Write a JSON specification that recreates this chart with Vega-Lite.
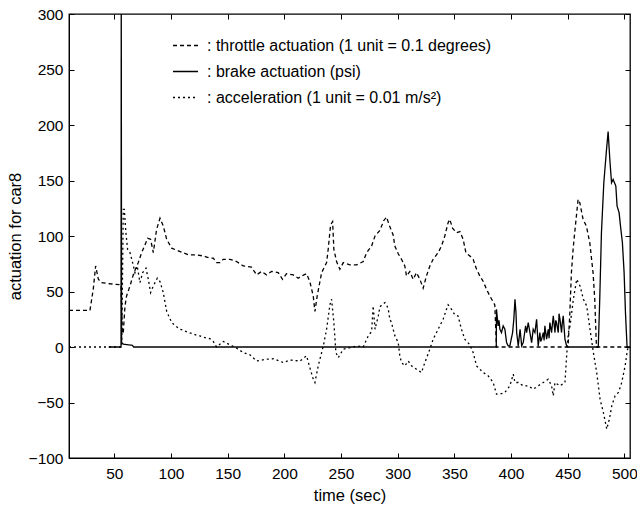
{
  "$schema": "https://vega.github.io/schema/vega-lite/v6.json",
  "width": 561,
  "height": 444,
  "autosize": {"type": "none"},
  "padding": {"left": 69, "top": 14, "right": 7, "bottom": 50},
  "background": "white",
  "config": {
    "font": "Liberation Sans",
    "view": {"stroke": "black", "strokeWidth": 1.3},
    "axis": {"grid": false, "domainColor": "black", "tickColor": "black", "labelColor": "black", "titleColor": "black", "labelFontSize": 15.5, "titleFontSize": 16.5, "titleFontWeight": "normal", "tickSize": -5, "labelFont": "Liberation Sans", "titleFont": "Liberation Sans"}
  },
  "datasets": {
    "series": [
      {"s":"throttle","t":10,"v":33},{"s":"throttle","t":28.5,"v":33},{"s":"throttle","t":31.4,"v":52},{"s":"throttle","t":33.5,"v":73},{"s":"throttle","t":35.9,"v":61},{"s":"throttle","t":38.8,"v":58},{"s":"throttle","t":46.2,"v":57},{"s":"throttle","t":55.9,"v":56},{"s":"throttle","t":57.0,"v":12},{"s":"throttle","t":57.9,"v":13},{"s":"throttle","t":59.4,"v":37},{"s":"throttle","t":60.8,"v":46},{"s":"throttle","t":63.8,"v":55},{"s":"throttle","t":67.3,"v":67},{"s":"throttle","t":71.1,"v":76},{"s":"throttle","t":74.1,"v":85},{"s":"throttle","t":77,"v":92},{"s":"throttle","t":79.4,"v":98},{"s":"throttle","t":82,"v":97},{"s":"throttle","t":84.4,"v":85},{"s":"throttle","t":87.3,"v":106},{"s":"throttle","t":90.3,"v":116},{"s":"throttle","t":93.2,"v":109},{"s":"throttle","t":96.2,"v":97},{"s":"throttle","t":100.6,"v":89},{"s":"throttle","t":108,"v":86},{"s":"throttle","t":115.3,"v":83},{"s":"throttle","t":122.6,"v":83},{"s":"throttle","t":128.5,"v":82},{"s":"throttle","t":131.4,"v":81},{"s":"throttle","t":134.4,"v":80},{"s":"throttle","t":137.3,"v":80},{"s":"throttle","t":140.2,"v":76},{"s":"throttle","t":143.2,"v":76},{"s":"throttle","t":146.1,"v":79},{"s":"throttle","t":152,"v":79},{"s":"throttle","t":157.9,"v":77},{"s":"throttle","t":163.7,"v":73},{"s":"throttle","t":171,"v":72},{"s":"throttle","t":175.5,"v":65},{"s":"throttle","t":179.9,"v":68},{"s":"throttle","t":184.3,"v":65},{"s":"throttle","t":188.7,"v":68},{"s":"throttle","t":194.6,"v":67},{"s":"throttle","t":198.4,"v":61},{"s":"throttle","t":201.9,"v":66},{"s":"throttle","t":207.8,"v":65},{"s":"throttle","t":212.2,"v":62},{"s":"throttle","t":215.2,"v":64},{"s":"throttle","t":219.6,"v":66},{"s":"throttle","t":222.5,"v":59},{"s":"throttle","t":225.5,"v":46},{"s":"throttle","t":227,"v":32},{"s":"throttle","t":229,"v":46},{"s":"throttle","t":232.9,"v":67},{"s":"throttle","t":237.3,"v":76},{"s":"throttle","t":238.7,"v":88},{"s":"throttle","t":240.8,"v":110},{"s":"throttle","t":242.6,"v":113},{"s":"throttle","t":243.7,"v":88},{"s":"throttle","t":246.1,"v":77},{"s":"throttle","t":249,"v":70},{"s":"throttle","t":252,"v":76},{"s":"throttle","t":257.9,"v":74},{"s":"throttle","t":263.8,"v":74},{"s":"throttle","t":269.6,"v":77},{"s":"throttle","t":272.6,"v":85},{"s":"throttle","t":277,"v":91},{"s":"throttle","t":280,"v":100},{"s":"throttle","t":284.3,"v":105},{"s":"throttle","t":287.8,"v":114},{"s":"throttle","t":290.2,"v":117},{"s":"throttle","t":292.5,"v":110},{"s":"throttle","t":296,"v":101},{"s":"throttle","t":297.5,"v":91},{"s":"throttle","t":300.5,"v":84},{"s":"throttle","t":303.4,"v":79},{"s":"throttle","t":306.3,"v":73},{"s":"throttle","t":307.8,"v":64},{"s":"throttle","t":310.7,"v":68},{"s":"throttle","t":313.7,"v":61},{"s":"throttle","t":316.6,"v":67},{"s":"throttle","t":319.6,"v":61},{"s":"throttle","t":322.5,"v":53},{"s":"throttle","t":325.4,"v":64},{"s":"throttle","t":328.4,"v":73},{"s":"throttle","t":331.3,"v":79},{"s":"throttle","t":335.7,"v":85},{"s":"throttle","t":338.7,"v":91},{"s":"throttle","t":341.6,"v":100},{"s":"throttle","t":344.5,"v":112},{"s":"throttle","t":346,"v":115},{"s":"throttle","t":348.4,"v":107},{"s":"throttle","t":351.9,"v":103},{"s":"throttle","t":354.9,"v":104},{"s":"throttle","t":357.8,"v":97},{"s":"throttle","t":360.2,"v":85},{"s":"throttle","t":363.7,"v":82},{"s":"throttle","t":366.6,"v":79},{"s":"throttle","t":369.6,"v":70},{"s":"throttle","t":372.5,"v":64},{"s":"throttle","t":375.5,"v":59},{"s":"throttle","t":378.4,"v":52},{"s":"throttle","t":381.3,"v":46},{"s":"throttle","t":385.7,"v":38},{"s":"throttle","t":387.2,"v":0},{"s":"throttle","t":450.3,"v":0},{"s":"throttle","t":451.8,"v":28},{"s":"throttle","t":453.3,"v":67},{"s":"throttle","t":454.8,"v":88},{"s":"throttle","t":456.2,"v":103},{"s":"throttle","t":459.2,"v":133},{"s":"throttle","t":460.7,"v":130},{"s":"throttle","t":463.6,"v":115},{"s":"throttle","t":466.5,"v":109},{"s":"throttle","t":469.5,"v":94},{"s":"throttle","t":472.4,"v":67},{"s":"throttle","t":473.9,"v":43},{"s":"throttle","t":475.4,"v":0},{"s":"throttle","t":505,"v":0},

      {"s":"brake","t":45,"v":0},{"s":"brake","t":55.9,"v":0},{"s":"brake","t":56.1,"v":330},{"s":"brake","t":56.4,"v":4},{"s":"brake","t":58,"v":2.5},{"s":"brake","t":62,"v":2},{"s":"brake","t":66,"v":1.5},{"s":"brake","t":67,"v":0},{"s":"brake","t":387,"v":0},{"s":"brake","t":387.2,"v":34},{"s":"brake","t":388.6,"v":19},{"s":"brake","t":389.4,"v":24},{"s":"brake","t":390.2,"v":16},{"s":"brake","t":391.6,"v":13},{"s":"brake","t":393.1,"v":19},{"s":"brake","t":394.6,"v":16},{"s":"brake","t":396.1,"v":4},{"s":"brake","t":397.5,"v":1},{"s":"brake","t":399,"v":1},{"s":"brake","t":401.4,"v":13},{"s":"brake","t":402.5,"v":25},{"s":"brake","t":403.5,"v":43},{"s":"brake","t":404.4,"v":31},{"s":"brake","t":405,"v":13},{"s":"brake","t":406.4,"v":1},{"s":"brake","t":408,"v":16},{"s":"brake","t":409.4,"v":1},{"s":"brake","t":410.8,"v":4},{"s":"brake","t":412.9,"v":19},{"s":"brake","t":413.8,"v":13},{"s":"brake","t":415.2,"v":22},{"s":"brake","t":416.7,"v":13},{"s":"brake","t":418.2,"v":4},{"s":"brake","t":419.6,"v":16},{"s":"brake","t":421.1,"v":13},{"s":"brake","t":422.6,"v":25},{"s":"brake","t":424,"v":1},{"s":"brake","t":425.5,"v":13},{"s":"brake","t":426.2,"v":5},{"s":"brake","t":427,"v":7},{"s":"brake","t":428.5,"v":13},{"s":"brake","t":429.2,"v":6},{"s":"brake","t":429.9,"v":19},{"s":"brake","t":431.4,"v":7},{"s":"brake","t":432.9,"v":16},{"s":"brake","t":433.6,"v":8},{"s":"brake","t":434.3,"v":22},{"s":"brake","t":435.8,"v":13},{"s":"brake","t":436.5,"v":20},{"s":"brake","t":437.3,"v":28},{"s":"brake","t":438.8,"v":13},{"s":"brake","t":439.5,"v":24},{"s":"brake","t":440.2,"v":22},{"s":"brake","t":441.7,"v":13},{"s":"brake","t":442.4,"v":30},{"s":"brake","t":443.2,"v":25},{"s":"brake","t":444.6,"v":13},{"s":"brake","t":445.3,"v":22},{"s":"brake","t":446.1,"v":28},{"s":"brake","t":447.6,"v":7},{"s":"brake","t":449.1,"v":1},{"s":"brake","t":450.6,"v":0},{"s":"brake","t":477,"v":0},{"s":"brake","t":478.3,"v":43},{"s":"brake","t":479.8,"v":103},{"s":"brake","t":481.9,"v":148},{"s":"brake","t":484.3,"v":178},{"s":"brake","t":485.7,"v":194},{"s":"brake","t":487.2,"v":169},{"s":"brake","t":488.7,"v":148},{"s":"brake","t":490.1,"v":151},{"s":"brake","t":492.5,"v":145},{"s":"brake","t":493.6,"v":127},{"s":"brake","t":495.4,"v":121},{"s":"brake","t":496.6,"v":109},{"s":"brake","t":498.3,"v":94},{"s":"brake","t":499.8,"v":67},{"s":"brake","t":501,"v":31},{"s":"brake","t":502.4,"v":0},{"s":"brake","t":505,"v":0},

      {"s":"accel","t":10,"v":0},{"s":"accel","t":56.5,"v":0},{"s":"accel","t":57.9,"v":124},{"s":"accel","t":58.8,"v":124},{"s":"accel","t":60.2,"v":103},{"s":"accel","t":61.7,"v":88},{"s":"accel","t":63.8,"v":85},{"s":"accel","t":66.1,"v":76},{"s":"accel","t":68.2,"v":67},{"s":"accel","t":70.2,"v":73},{"s":"accel","t":72.6,"v":58},{"s":"accel","t":75,"v":67},{"s":"accel","t":77.9,"v":71},{"s":"accel","t":80,"v":61},{"s":"accel","t":82,"v":49},{"s":"accel","t":84.4,"v":55},{"s":"accel","t":87.9,"v":62},{"s":"accel","t":90.3,"v":59},{"s":"accel","t":93.2,"v":49},{"s":"accel","t":96.2,"v":32},{"s":"accel","t":100.6,"v":22},{"s":"accel","t":104,"v":19},{"s":"accel","t":108,"v":16},{"s":"accel","t":111,"v":15},{"s":"accel","t":115.3,"v":13},{"s":"accel","t":119,"v":12},{"s":"accel","t":122.6,"v":10.5},{"s":"accel","t":125.5,"v":10},{"s":"accel","t":131.4,"v":8},{"s":"accel","t":134.3,"v":7.5},{"s":"accel","t":137.3,"v":5},{"s":"accel","t":140.2,"v":0},{"s":"accel","t":146.1,"v":5},{"s":"accel","t":152,"v":2},{"s":"accel","t":157.9,"v":-1},{"s":"accel","t":163.7,"v":-5},{"s":"accel","t":169.6,"v":-7},{"s":"accel","t":175.5,"v":-12.6},{"s":"accel","t":184.3,"v":-11},{"s":"accel","t":190.2,"v":-10.5},{"s":"accel","t":199,"v":-14},{"s":"accel","t":205,"v":-11.7},{"s":"accel","t":213.8,"v":-12.6},{"s":"accel","t":219.6,"v":-8},{"s":"accel","t":222.5,"v":-18.6},{"s":"accel","t":225.5,"v":-29},{"s":"accel","t":227,"v":-32},{"s":"accel","t":229.9,"v":-17},{"s":"accel","t":234.4,"v":1},{"s":"accel","t":237.3,"v":16},{"s":"accel","t":240.2,"v":38},{"s":"accel","t":241.7,"v":43},{"s":"accel","t":243.7,"v":22},{"s":"accel","t":245.5,"v":-5},{"s":"accel","t":247.6,"v":-9.6},{"s":"accel","t":252,"v":-2},{"s":"accel","t":257.9,"v":-0.6},{"s":"accel","t":263.8,"v":1},{"s":"accel","t":269.6,"v":0},{"s":"accel","t":274,"v":10},{"s":"accel","t":277,"v":14},{"s":"accel","t":278.4,"v":37},{"s":"accel","t":280,"v":16},{"s":"accel","t":282.9,"v":28},{"s":"accel","t":284.3,"v":36},{"s":"accel","t":286,"v":38},{"s":"accel","t":288.8,"v":40},{"s":"accel","t":290.2,"v":38},{"s":"accel","t":291.7,"v":34},{"s":"accel","t":293.1,"v":25},{"s":"accel","t":294.6,"v":22},{"s":"accel","t":296,"v":16},{"s":"accel","t":297.6,"v":10},{"s":"accel","t":300.5,"v":4},{"s":"accel","t":301.9,"v":-8},{"s":"accel","t":303.4,"v":-14},{"s":"accel","t":306.3,"v":-17},{"s":"accel","t":309.3,"v":-12.6},{"s":"accel","t":312.2,"v":-17},{"s":"accel","t":316.6,"v":-20},{"s":"accel","t":321,"v":-23},{"s":"accel","t":324,"v":-14},{"s":"accel","t":328.4,"v":-2},{"s":"accel","t":331.3,"v":7},{"s":"accel","t":335.7,"v":16},{"s":"accel","t":340.1,"v":25},{"s":"accel","t":343.1,"v":34},{"s":"accel","t":344.5,"v":38},{"s":"accel","t":347.5,"v":34},{"s":"accel","t":350.4,"v":29},{"s":"accel","t":353.3,"v":28},{"s":"accel","t":356.3,"v":16},{"s":"accel","t":359.2,"v":7},{"s":"accel","t":363.7,"v":2},{"s":"accel","t":366.6,"v":-5},{"s":"accel","t":369.6,"v":-17},{"s":"accel","t":375.5,"v":-23},{"s":"accel","t":379.9,"v":-26},{"s":"accel","t":384.3,"v":-32},{"s":"accel","t":387.2,"v":-42.5},{"s":"accel","t":390.2,"v":-42.5},{"s":"accel","t":394.6,"v":-41},{"s":"accel","t":399,"v":-35},{"s":"accel","t":402,"v":-24.5},{"s":"accel","t":403.5,"v":-32},{"s":"accel","t":406.4,"v":-32},{"s":"accel","t":410.8,"v":-35},{"s":"accel","t":415.2,"v":-35},{"s":"accel","t":419.6,"v":-38},{"s":"accel","t":424,"v":-35},{"s":"accel","t":428.5,"v":-32},{"s":"accel","t":432.9,"v":-29},{"s":"accel","t":435.8,"v":-35},{"s":"accel","t":437.3,"v":-44},{"s":"accel","t":438.8,"v":-32},{"s":"accel","t":443.2,"v":-35},{"s":"accel","t":447.6,"v":-32},{"s":"accel","t":449.1,"v":-8},{"s":"accel","t":450.6,"v":13},{"s":"accel","t":452.1,"v":19},{"s":"accel","t":455,"v":43},{"s":"accel","t":458,"v":61},{"s":"accel","t":460.9,"v":55},{"s":"accel","t":463.9,"v":43},{"s":"accel","t":466.8,"v":37},{"s":"accel","t":469.7,"v":16},{"s":"accel","t":472.7,"v":-5},{"s":"accel","t":475.6,"v":-23},{"s":"accel","t":478.6,"v":-47},{"s":"accel","t":481.5,"v":-59},{"s":"accel","t":484.5,"v":-74},{"s":"accel","t":486.8,"v":-65},{"s":"accel","t":488.9,"v":-53},{"s":"accel","t":491.8,"v":-44},{"s":"accel","t":494.8,"v":-41},{"s":"accel","t":497.7,"v":-32},{"s":"accel","t":500.7,"v":-17},{"s":"accel","t":502.8,"v":-2},{"s":"accel","t":505,"v":0}
    ]
  },
  "layer": [
    {
      "data": {"name": "series"},
      "mark": {"type": "line", "clip": true, "color": "black", "strokeWidth": 1.3},
      "encoding": {
        "x": {"field": "t", "type": "quantitative", "scale": {"domain": [10, 505], "nice": false, "zero": false},
              "axis": {"orient": "bottom", "values": [50,100,150,200,250,300,350,400,450,500], "title": "time (sec)", "labelPadding": 13, "titleBaseline": "alphabetic", "titleY": 42}},
        "y": {"field": "v", "type": "quantitative", "scale": {"domain": [-100, 300], "nice": false, "zero": false},
              "axis": {"orient": "left", "values": [-100,-50,0,50,100,150,200,250,300], "title": "actuation for car8", "labelPadding": 11, "titleBaseline": "alphabetic", "titleX": -49, "titleY": 222, "titleAngle": -90, "titleAlign": "center"}},
        "strokeDash": {"field": "s", "type": "nominal",
              "scale": {"domain": ["throttle", "brake", "accel"], "range": [[4, 3], [1, 0], [2, 3]]},
              "legend": {"orient": "none", "legendX": 103, "legendY": 18, "title": null, "symbolType": "stroke", "symbolSize": 625, "symbolStrokeColor": "black", "symbolStrokeWidth": 1.3, "labelFontSize": 16, "labelFont": "Liberation Sans", "labelColor": "black", "labelOffset": 8, "rowPadding": 4, "labelLimit": 500,
                         "labelExpr": "datum.label == 'throttle' ? ': throttle actuation (1 unit = 0.1 degrees)' : datum.label == 'brake' ? ': brake actuation (psi)' : ': acceleration (1 unit = 0.01 m/s²)'"}}
      }
    },
    {
      "data": {"name": "series"},
      "mark": {"type": "line", "opacity": 0},
      "encoding": {
        "x": {"field": "t", "type": "quantitative", "scale": {"domain": [10, 505], "nice": false, "zero": false},
              "axis": {"orient": "top", "values": [50,100,150,200,250,300,350,400,450,500], "labels": false, "domain": false, "title": null}},
        "y": {"field": "v", "type": "quantitative", "scale": {"domain": [-100, 300], "nice": false, "zero": false},
              "axis": {"orient": "right", "values": [-100,-50,0,50,100,150,200,250,300], "labels": false, "domain": false, "title": null}},
        "detail": {"field": "s", "type": "nominal"}
      }
    }
  ],
  "resolve": {"axis": {"x": "independent", "y": "independent"}}
}
